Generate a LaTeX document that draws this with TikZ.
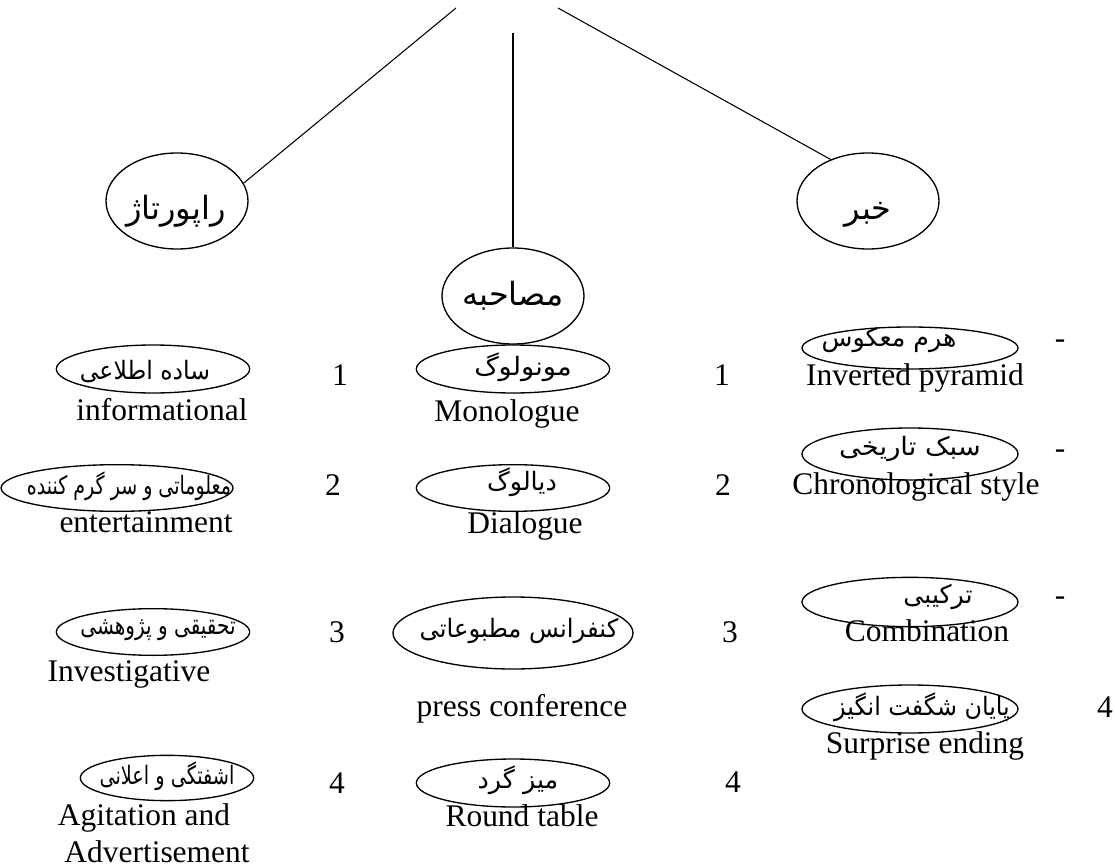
\documentclass[tikz,border=0pt]{standalone}
\usepackage{fontspec}
\usepackage{graphicx}
\setmainfont{Liberation Serif}
\newfontfamily\farsi[Script=Arabic]{DejaVu Sans}
\TeXXeTstate=1
\usetikzlibrary{shapes.geometric}

\tikzset{
  oval/.style={draw, ellipse, line width=1pt, inner sep=0pt},
  big/.style={oval, minimum width=106.5pt, minimum height=72pt},
  fa/.style={font=\farsi\fontsize{19}{21}\selectfont, inner sep=0pt},
  fabig/.style={font=\farsi\fontsize{24}{26}\selectfont, inner sep=0pt},
  en/.style={font=\fontsize{23.6}{26}\selectfont, inner sep=0pt, anchor=base},
  stem/.style={line width=0.8pt},
}

\begin{document}
\begin{tikzpicture}[x=0.75pt,y=-0.75pt]
  \useasboundingbox (0,0) rectangle (1115,867);
  \coordinate (topL) at (456,8);
  \coordinate (topM) at (513,33);
  \coordinate (topR) at (558,8);

  \node[big] (rep) at (177,201) {};
  \node[big] (mos) at (513,296) {};
  \node[big] (khabar) at (868,201) {};
  \node[fabig] (repfa) at (176,211) {\beginR راپورتاژ\endR};
  \node[fabig] (mosfa) at (513,296) {\beginR مصاحبه\endR};
  \node[fabig] (khabarfa) at (868,215) {\beginR خبر\endR};
  \draw[stem] (topL) -- (rep.15);
  \draw[stem] (topM) -- (mos.north);
  \draw[stem] (topR) -- (khabar.132);

  % left column
  \node[oval, minimum width=145pt, minimum height=36pt] (r1) at (153,369) {};
  \node[fa] (r1fa) at (145,372) {\scalebox{0.93}[1]{\beginR ساده اطلاعی\endR}};
  \node[en] (r1en) at (162,420) {informational};
  \node[en] (r1n) at (340,385) {1};
  \node[oval, minimum width=174pt, minimum height=35pt] (r2) at (117,488) {};
  \node[fa] (r2fa) at (129,486) {\scalebox{0.75}[1]{\beginR معلوماتی و سر گرم کننده\endR}};
  \node[en] (r2en) at (146,532) {entertainment};
  \node[en] (r2n) at (333,495) {2};
  \node[oval, minimum width=145pt, minimum height=35pt] (r3) at (153,632) {};
  \node[fa] (r3fa) at (158,630) {\scalebox{0.79}[1]{\beginR تحقیقی و پژوهشی\endR}};
  \node[en] (r3en) at (129,681) {Investigative};
  \node[en] (r3n) at (337,642) {3};
  \node[oval, minimum width=130pt, minimum height=34pt] (r4) at (167,778) {};
  \node[fa] (r4fa) at (167,776) {\scalebox{0.76}[1]{\beginR اشفتگی و اعلانی\endR}};
  \node[en] (r4en) at (144,825) {Agitation and};
  \node[en] (r4en2) at (157,862) {Advertisement};
  \node[en] (r4n) at (337,793) {4};

  % middle column
  \node[oval, minimum width=145pt, minimum height=36pt] (m1) at (513,369) {};
  \node[fa] (m1fa) at (523,367) {\scalebox{1.08}[1]{\beginR مونولوگ\endR}};
  \node[en] (m1en) at (507,421) {Monologue};
  \node[en] (m1n) at (722,385) {1};
  \node[oval, minimum width=145pt, minimum height=35pt] (m2) at (513,488) {};
  \node[fa] (m2fa) at (522,482) {\beginR دیالوگ\endR};
  \node[en] (m2en) at (525,533) {Dialogue};
  \node[en] (m2n) at (723,495) {2};
  \node[oval, minimum width=180pt, minimum height=54pt] (m3) at (513,633) {};
  \node[fa] (m3fa) at (519,631) {\scalebox{0.96}[1]{\beginR کنفرانس مطبوعاتی\endR}};
  \node[en] (m3en) at (522,716) {press conference};
  \node[en] (m3n) at (730,642) {3};
  \node[oval, minimum width=145pt, minimum height=36pt] (m4) at (513,783) {};
  \node[fa] (m4fa) at (518,780) {\beginR میز گرد\endR};
  \node[en] (m4en) at (522,826) {Round table};
  \node[en] (m4n) at (733,792) {4};

  % right column
  \node[oval, minimum width=162pt, minimum height=31.5pt] (k1) at (910,348) {};
  \node[fa] (k1fa) at (889,340) {\beginR هرم معکوس\endR};
  \node[en] (k1en) at (915,385) {Inverted pyramid};
  \node[en] (k1n) at (1060,348) {-};
  \node[oval, minimum width=162pt, minimum height=39pt] (k2) at (910,454) {};
  \node[fa] (k2fa) at (910,449) {\scalebox{1.08}[1]{\beginR سبک تاریخی\endR}};
  \node[en] (k2en) at (916,494) {Chronological style};
  \node[en] (k2n) at (1060,458) {-};
  \node[oval, minimum width=162pt, minimum height=37pt] (k3) at (910,602) {};
  \node[fa] (k3fa) at (938,597) {\beginR ترکیبی\endR};
  \node[en] (k3en) at (927,641) {Combination};
  \node[en] (k3n) at (1060,605) {-};
  \node[oval, minimum width=162pt, minimum height=36pt] (k4) at (910,709) {};
  \node[fa] (k4fa) at (922,707) {\scalebox{0.94}[1]{\beginR پایان شگفت انگیز\endR}};
  \node[en] (k4en) at (925,753) {Surprise ending};
  \node[en] (k4n) at (1105,717) {4};
\end{tikzpicture}
\end{document}
